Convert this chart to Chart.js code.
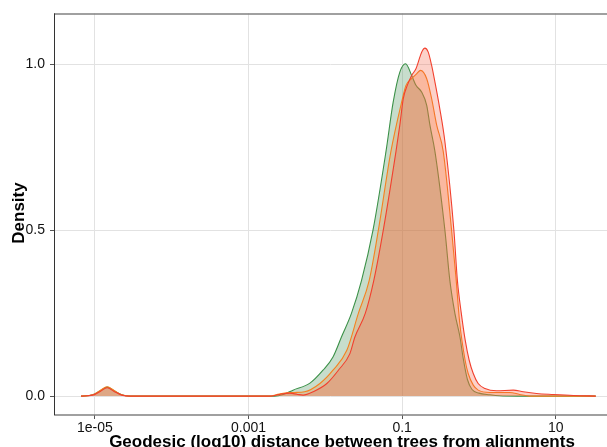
<!DOCTYPE html>
<html>
<head>
<meta charset="utf-8">
<script src="https://cdn.jsdelivr.net/npm/chart.js@4.4.1/dist/chart.umd.min.js"></script>
<style>
html,body{margin:0;padding:0;background:#fff;overflow:hidden;}
canvas{display:block;}
</style>
</head>
<body>
<canvas id="c" width="607" height="447"></canvas>
<script>
// x values are log10(distance); y values are density
const greenLog  = [-5.18,-5.03,-4.93,-4.84,-4.75,-4.65,-4.54,-2.66,-2.55,-2.42,-2.20,-2.03,-1.90,-1.79,-1.66,-1.53,-1.38,-1.21,-1.116,-1.03,-0.955,-0.876,-0.82,-0.746,-0.68,-0.638,-0.573,-0.443,-0.378,-0.313,-0.247,-0.205,-0.15,-0.09,0.0,0.143,0.27,0.5,1.52];
const greenDens = [0,0.004,0.016,0.027,0.016,0.004,0,0,0.005,0.018,0.039,0.078,0.118,0.178,0.249,0.347,0.499,0.737,0.886,0.976,1.001,0.966,0.936,0.916,0.876,0.816,0.737,0.499,0.347,0.249,0.178,0.114,0.05,0.02,0.009,0.004,0.001,0,0];

const orangeLog  = [-5.18,-5.03,-4.93,-4.84,-4.75,-4.65,-4.54,-2.75,-2.6,-2.5,-2.4,-2.27,-2.07,-1.90,-1.72,-1.57,-1.43,-1.31,-1.146,-1.006,-0.95,-0.877,-0.81,-0.76,-0.68,-0.616,-0.55,-0.465,-0.356,-0.30,-0.25,-0.18,-0.14,-0.074,-0.01,0.143,0.4,0.53,0.66,1.52];
const orangeDens = [0,0.004,0.017,0.028,0.017,0.004,0,0,0.006,0.010,0.011,0.013,0.038,0.078,0.138,0.249,0.347,0.499,0.737,0.886,0.936,0.956,0.971,0.981,0.956,0.896,0.816,0.737,0.499,0.36,0.22,0.108,0.068,0.033,0.018,0.011,0.011,0.005,0,0];

const redLog  = [-5.18,-5.03,-4.93,-4.84,-4.75,-4.65,-4.54,-2.72,-2.6,-2.46,-2.36,-2.29,-2.16,-1.98,-1.83,-1.68,-1.615,-1.48,-1.37,-1.246,-1.08,-1.03,-0.985,-0.933,-0.876,-0.82,-0.79,-0.746,-0.703,-0.66,-0.616,-0.573,-0.51,-0.443,-0.326,-0.28,-0.23,-0.18,-0.127,-0.074,-0.01,0.078,0.23,0.447,0.577,0.75,0.968,1.23,1.52];
const redDens = [0,0.003,0.014,0.025,0.014,0.003,0,0,0.005,0.009,0.005,0.003,0.013,0.038,0.078,0.128,0.178,0.249,0.347,0.499,0.737,0.816,0.896,0.936,0.966,0.986,1.006,1.036,1.048,1.036,0.996,0.946,0.866,0.766,0.499,0.347,0.25,0.17,0.108,0.068,0.038,0.023,0.016,0.018,0.013,0.008,0.005,0.002,0];

const xTickValues = [-5,-3,-1,1];
const xTickLabels = ['1e-05','0.001','0.1','10'];
const yTickValues = [0,0.5,1.0];
const yTickLabels = ['0.0','0.5','1.0'];

const xTitle = 'Geodesic (log10) distance between trees from alignments';
const yTitle = 'Density';

const FONT = "'Liberation Sans', Arial, Helvetica, sans-serif";
Chart.defaults.font.family = FONT;

function pts(xs, ys){ return xs.map((x,i)=>({x:x,y:ys[i]})); }

function ds(label, xs, ys, line, fillc){
  return {label:label, data:pts(xs,ys), borderColor:line, backgroundColor:fillc,
    borderWidth:1.1, pointRadius:0, fill:'origin', cubicInterpolationMode:'monotone'};
}

const frame = {
  id:'frame',
  afterDraw(chart){
    const ctx = chart.ctx, a = chart.chartArea;
    ctx.save();
    ctx.strokeStyle = '#808080'; ctx.lineWidth = 1.5;
    ctx.beginPath(); ctx.moveTo(a.left, a.top+0.5); ctx.lineTo(chart.width, a.top+0.5); ctx.stroke();
    ctx.beginPath(); ctx.moveTo(a.left, a.bottom); ctx.lineTo(chart.width, a.bottom); ctx.stroke();
    ctx.strokeStyle = '#333'; ctx.lineWidth = 1;
    ctx.beginPath(); ctx.moveTo(a.left+0.5, a.top); ctx.lineTo(a.left+0.5, a.bottom); ctx.stroke();
    ctx.fillStyle = '#000';
    ctx.font = 'bold 17px ' + FONT;
    ctx.textAlign = 'center'; ctx.textBaseline = 'alphabetic';
    ctx.fillText(xTitle, 342, 447);
    ctx.translate(24, 213); ctx.rotate(-Math.PI/2);
    ctx.fillText(yTitle, 0, 0);
    ctx.restore();
  }
};

new Chart(document.getElementById('c'), {
  type:'line',
  data:{ datasets:[
    ds('red', redLog, redDens, '#f2402e', 'rgba(244,90,60,0.28)'),
    ds('orange', orangeLog, orangeDens, '#f5821f', 'rgba(245,140,60,0.30)'),
    ds('green', greenLog, greenDens, '#3b9148', 'rgba(80,150,95,0.32)')
  ]},
  options:{
    responsive:false, animation:false,
    layout:{padding:{top:11,left:0,right:0,bottom:0}},
    plugins:{legend:{display:false}, tooltip:{enabled:false}},
    scales:{
      x:{type:'linear', min:-5.532, max:1.667,
        afterBuildTicks(s){ s.ticks = xTickValues.map(v=>({value:v})); },
        afterFit(s){ s.height = 32; },
        ticks:{ callback:(v)=>xTickLabels[xTickValues.indexOf(v)], color:'#111', font:{size:14}, padding:1, maxRotation:0, autoSkip:false },
        grid:{color:'#e2e2e2', lineWidth:1, tickLength:4, tickColor:'#555', drawTicks:true},
        border:{display:false}
      },
      y:{type:'linear', min:-0.0569, max:1.1527,
        afterBuildTicks(s){ s.ticks = yTickValues.map(v=>({value:v})); },
        afterFit(s){ s.width = 54; },
        ticks:{ callback:(v)=>yTickLabels[yTickValues.indexOf(v)], color:'#111', font:{size:14}, padding:5, autoSkip:false },
        grid:{color:'#e2e2e2', lineWidth:1, tickLength:4, tickColor:'#555', drawTicks:true},
        border:{display:false}
      }
    }
  },
  plugins:[frame]
});
</script>
</body>
</html>
